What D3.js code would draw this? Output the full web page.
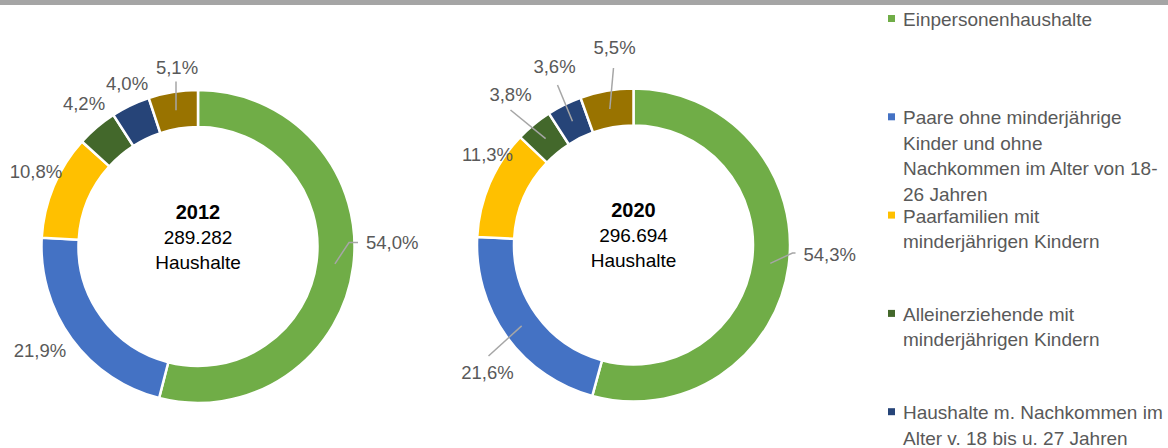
<!DOCTYPE html>
<html>
<head>
<meta charset="utf-8">
<script src="https://cdn.jsdelivr.net/npm/d3@7/dist/d3.min.js"></script>
<style>
  body { margin: 0; background: #fff; }
  svg text { font-family: "Liberation Sans", Arial, sans-serif; }
</style>
</head>
<body>
<script>
// household types, same order as the slices (clockwise from 12 o'clock)
var categories = [
  "Einpersonenhaushalte",
  "Paare ohne minderjährige\nKinder und ohne\nNachkommen im Alter von 18-\n26 Jahren",
  "Paarfamilien mit\nminderjährigen Kindern",
  "Alleinerziehende mit\nminderjährigen Kindern",
  "Haushalte m. Nachkommen im\nAlter v. 18 bis u. 27 Jahren",
  "Sonstige Haushalte"
];
var years = ["2012", "2020"];
var totals = ["289.282", "296.694"];
var shares2012 = [54.0, 21.9, 10.8, 4.2, 4.0, 5.1];
var shares2020 = [54.3, 21.6, 11.3, 3.8, 3.6, 5.5];
var colors = ["#70ad47", "#4472c4", "#ffc000", "#43682b", "#264478", "#997300"];

var width = 1168, height = 448;

var svg = d3.select("body").append("svg")
  .attr("width", width)
  .attr("height", height);

// grey title strip cut off at the top
svg.append("rect")
  .attr("x", 0).attr("y", 0)
  .attr("width", width).attr("height", 5)
  .attr("fill", "#a5a5a5");

var outerR = 156.5, innerR = 119.5;
var pie = d3.pie().sort(null).value(d => d);
var arc = d3.arc().innerRadius(innerR).outerRadius(outerR);
var fmt = v => d3.format(".1f")(v).replace(".", ",") + "%";

// label placement (relative to donut centre), Excel "best fit" look
var labelLayout = [
  [
    { dx: 168, dy: -4, anchor: "start", leader: [[151, -4], [160, -4]] },
    { dx: -158, dy: 104 },
    { dx: -162, dy: -75 },
    { dx: -114, dy: -143 },
    { dx: -71, dy: -163 },
    { dx: -21, dy: -179, leader: [[-22, -165]] }
  ],
  [
    { dx: 170, dy: 10, anchor: "start", leader: [[159, 8], [162, 8]] },
    { dx: -146, dy: 128, leader: [[-145, 111]] },
    { dx: -146, dy: -90 },
    { dx: -123, dy: -150, leader: [[-123, -135]] },
    { dx: -79, dy: -178, leader: [[-76, -160]] },
    { dx: -19, dy: -197, leader: [[-20, -177]] }
  ]
];

var centres = [[198, 246.5], [633.5, 245]];
var seriesList = [shares2012, shares2020];

seriesList.forEach(function(series, k) {
  var g = svg.append("g")
    .attr("transform", `translate(${centres[k][0]}, ${centres[k][1]})`);

  var arcs = pie(series);

  g.selectAll("path.slice")
    .data(arcs)
    .enter()
    .append("path")
    .attr("class", "slice")
    .attr("d", arc)
    .attr("fill", (d, i) => colors[i])
    .attr("stroke", "#fff")
    .attr("stroke-width", 2.5);

  // leader lines
  arcs.forEach(function(d, i) {
    var lay = labelLayout[k][i];
    if (!lay.leader) return;
    var pts = [arc.centroid(d)].concat(lay.leader);
    g.append("path")
      .attr("d", d3.line()(pts))
      .attr("fill", "none")
      .attr("stroke", "#a6a6a6")
      .attr("stroke-width", 1.5);
  });

  g.selectAll("text.lbl")
    .data(arcs)
    .enter()
    .append("text")
    .attr("class", "lbl")
    .attr("x", (d, i) => labelLayout[k][i].dx)
    .attr("y", (d, i) => labelLayout[k][i].dy)
    .attr("dy", "0.35em")
    .attr("text-anchor", (d, i) => labelLayout[k][i].anchor || "middle")
    .attr("font-size", 18.5)
    .attr("fill", "#595959")
    .text(d => fmt(d.data));

  // centre text
  g.append("text")
    .attr("y", -28)
    .attr("text-anchor", "middle")
    .attr("font-size", 20)
    .attr("font-weight", "bold")
    .attr("fill", "#000")
    .text(years[k]);
  g.append("text")
    .attr("y", -3)
    .attr("text-anchor", "middle")
    .attr("font-size", 19)
    .attr("fill", "#000")
    .text(totals[k]);
  g.append("text")
    .attr("y", 22)
    .attr("text-anchor", "middle")
    .attr("font-size", 19)
    .attr("fill", "#000")
    .text("Haushalte");
});

// legend: fixed slots, the last one falls below the visible area
var legendX = 888, legendY0 = 26, slot = 98.3, lineH = 25.5;
var legendItems = categories
  .map((c, i) => ({ name: c, color: colors[i], y: legendY0 + i * slot }))
  .filter(d => d.y < height);

var leg = svg.selectAll("g.leg")
  .data(legendItems)
  .enter()
  .append("g")
  .attr("class", "leg")
  .attr("transform", d => `translate(${legendX}, ${d.y})`);

leg.append("rect")
  .attr("x", 0).attr("y", -11)
  .attr("width", 7).attr("height", 7)
  .attr("fill", d => d.color);

leg.append("text")
  .attr("font-size", 19)
  .attr("fill", "#595959")
  .selectAll("tspan")
  .data(d => d.name.split("\n"))
  .enter()
  .append("tspan")
  .attr("x", 15)
  .attr("y", (d, i) => i * lineH)
  .text(d => d);
</script>
</body>
</html>
